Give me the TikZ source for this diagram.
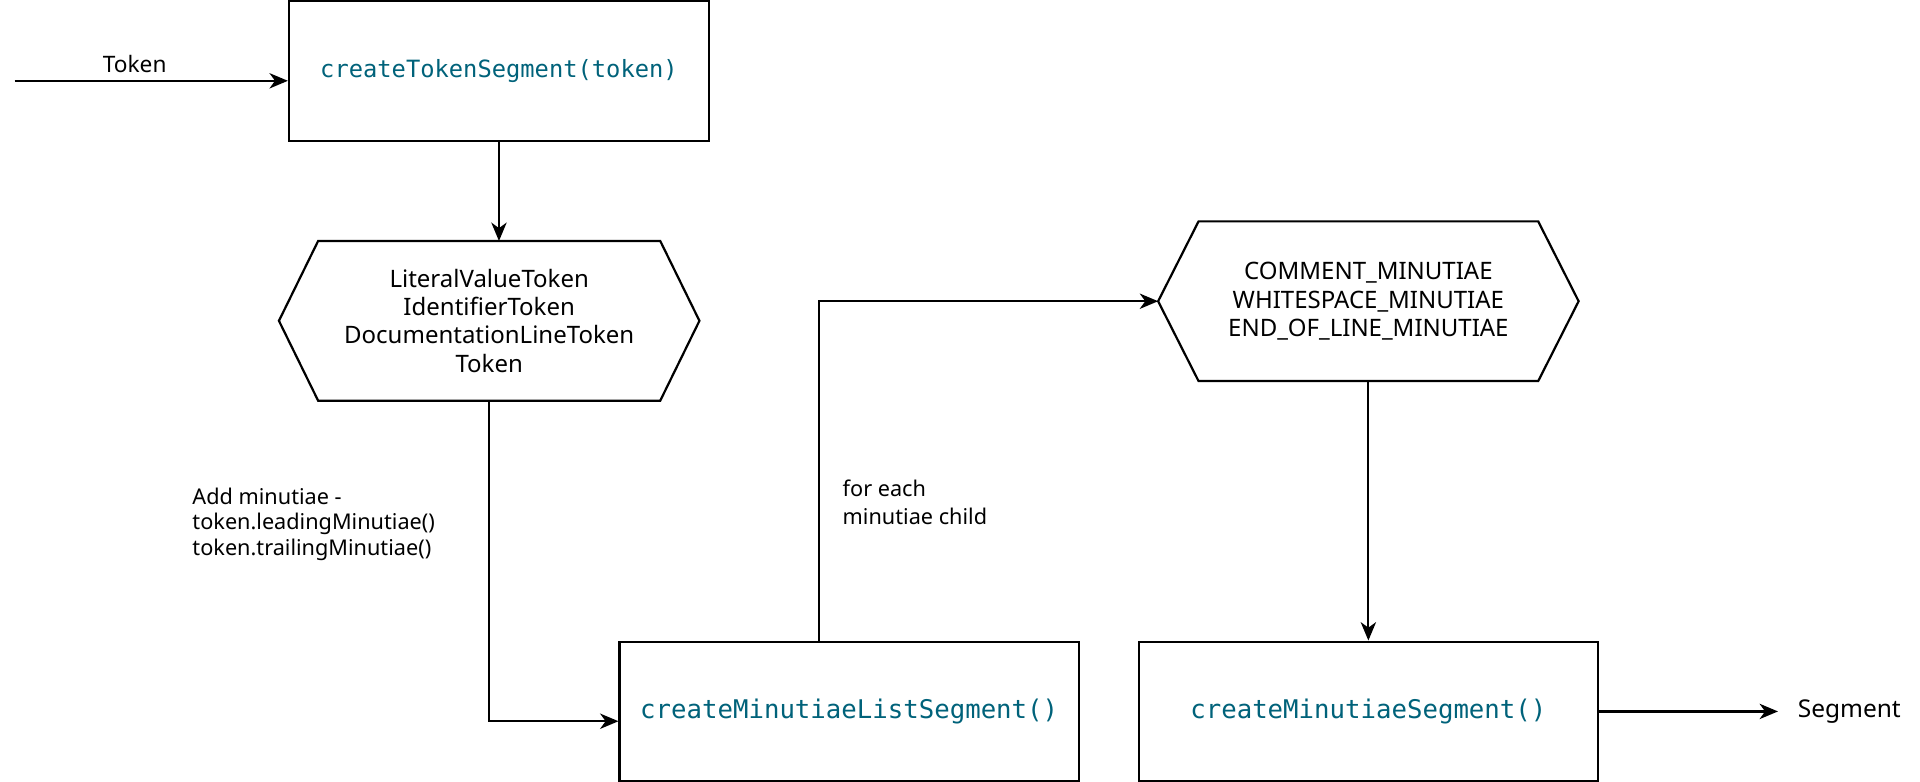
\documentclass[tikz,border=0pt]{standalone}
\usepackage{fontspec}
\setmainfont{Noto Sans}
\newfontfamily\codefont{DejaVu Sans Mono}
\usetikzlibrary{arrows.meta,calc}
\definecolor{codecol}{HTML}{00627A}
\tikzset{
  box/.style={draw, line width=1.8pt, rectangle, inner sep=0pt, text=codecol},
  hexbox/.style={draw=none, rectangle, inner sep=0pt, align=center, font=\fontsize{19.6}{23}\selectfont},
  hexline/.style={line width=1.8pt, line join=miter},
  arr/.style={line width=1.8pt, -{Stealth[length=15pt,width=12.5pt,inset=4.5pt]}},
  lbl/.style={inner sep=0pt, font=\fontsize{17.7}{21}\selectfont},
}
\begin{document}
\begin{tikzpicture}[x=1pt,y=-1pt]
\useasboundingbox (0,0) rectangle (1568,638.6);

% boxes
\node[box, minimum width=343pt, minimum height=114pt, font=\codefont\fontsize{19.4}{23}\selectfont] (b1) at (407.5,58) {createTokenSegment(token)};
\node[box, minimum width=375pt, minimum height=114pt, font=\codefont\fontsize{21}{25}\selectfont] (b2) at (693.5,581) {createMinutiaeListSegment()};
\node[box, minimum width=375pt, minimum height=114pt, font=\codefont\fontsize{21}{25}\selectfont] (b3) at (1117.5,581) {createMinutiaeSegment()};

% hexagons
\node[hexbox, minimum width=343pt, minimum height=130pt] (h1) at (399.5,262) {LiteralValueToken\\IdentifierToken\\DocumentationLineToken\\Token};
\draw[hexline] (h1.west) -- ([xshift=32pt]h1.north west) -- ([xshift=-32pt]h1.north east) -- (h1.east) -- ([xshift=-32pt]h1.south east) -- ([xshift=32pt]h1.south west) -- cycle;

\node[hexbox, minimum width=343pt, minimum height=130pt] (h2) at (1117.5,246) {COMMENT\_MINUTIAE\\WHITESPACE\_MINUTIAE\\END\_OF\_LINE\_MINUTIAE};
\draw[hexline] (h2.west) -- ([xshift=33pt]h2.north west) -- ([xshift=-33pt]h2.north east) -- (h2.east) -- ([xshift=-33pt]h2.south east) -- ([xshift=33pt]h2.south west) -- cycle;

% free ends
\coordinate (in) at (12,66);
\coordinate (out) at (1452,581);

% connectors
\draw[arr] (in) -- (in -| b1.west);
\node[lbl, font=\fontsize{18.5}{22}\selectfont] (tok) at (110,52) {Token};

\draw[arr] (b1.south) -- (b1.south |- h1.north);

\coordinate (b2in) at ([yshift=-8pt]b2.west);
\draw[arr] (h1.south) -- (h1.south |- b2in) -- (b2in);
\node[lbl, anchor=west, align=left] (addm) at (157,428) {Add minutiae -\\token.leadingMinutiae()\\token.trailingMinutiae()};

\coordinate (b2up) at ([xshift=-24.5pt]b2.north);
\draw[arr] (b2up) -- (b2up |- h2.west) -- (h2.west);
\node[lbl, anchor=west, align=left, font=\fontsize{17.7}{22.5}\selectfont] (fe) at (688,410) {for each\\minutiae child};

\draw[arr] (h2.south) -- (b3.north);

\draw[arr] (b3.east) -- (out);
\node[lbl, anchor=west, font=\fontsize{20}{24}\selectfont] (seg) at (1468,581) {Segment};
\end{tikzpicture}
\end{document}
